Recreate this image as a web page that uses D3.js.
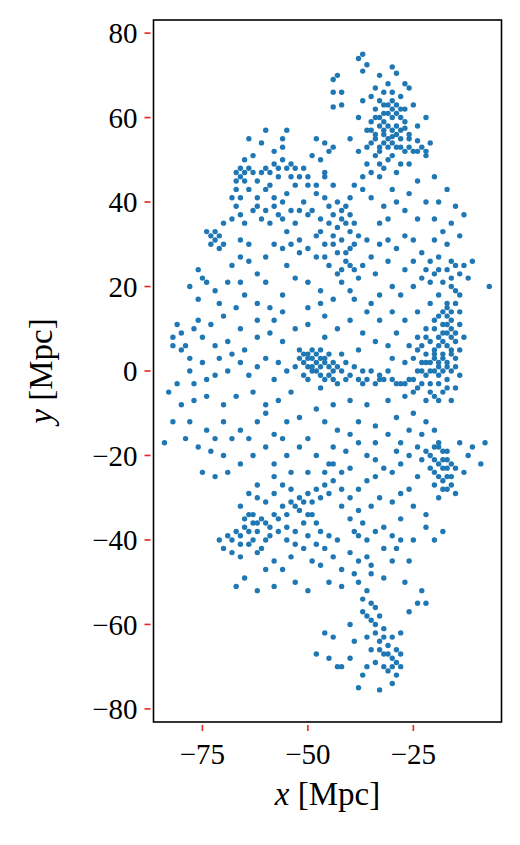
<!DOCTYPE html>
<html><head><meta charset="utf-8">
<script src="https://cdn.jsdelivr.net/npm/d3@7"></script>
<style>body{margin:0;background:#fff}</style></head>
<body><script>
const xTicks=[-75,-50,-25];
const yTicks=[-80,-60,-40,-20,0,20,40,60,80];
const northCluster=[[-37,75],[-38,74],[-36,72.5],[-37,71],[-33,70],[-29,70.5],[-31,68],[-32,66],[-30,66],[-28,65],[-33,64],[-31,63],[-29,63],[-27,62],[-34,62],[-32,61],[-30,60],[-28,60],[-35,59],[-33,58],[-31,58],[-29,58],[-27,57.5],[-36,57],[-34,56],[-32,56],[-30,55.5],[-28,55],[-26,55],[-24,54.5],[-35,54],[-33,53],[-31,53],[-29,53],[-27,52],[-25,52],[-23,53],[-22,51],[-30,51],[-34,51],[-36,49],[-32,48],[-28,49],[-26,49],[-21,54],[-24,58],[-22,60],[-25,63],[-26,67],[-34,67],[-37,64],[-38,60],[-36,53],[-31,50],[-29,47],[-33,46],[-38,52],[-40,55],[-20,46],[-24,45],[-43,70],[-44,69],[-44,66],[-42,66],[-42,63],[-44,62.5],[-30,72],[-27,68],[-35,65],[-32,59]];
const northDense=[[-33,60],[-31,61],[-29,61],[-32,57],[-30,57],[-28,57],[-26,56],[-34,55],[-32,54],[-30,54],[-28,53],[-26,53],[-24,52],[-22,52],[-33,52],[-31,55],[-29,56],[-27,59],[-30,62],[-32,63],[-30,64],[-28,62],[-34,60],[-35,57],[-33,49],[-35,47],[-37,46],[-39,44],[-40,41],[-41,39],[-42,36],[-43,34],[-40,37],[-39,35],[-38,32],[-40,29],[-41,26],[-39,24],[-42,24]];
const upperLeft=[[-55,57],[-56,55],[-56,53],[-58,52],[-61,54],[-63,51],[-65,50],[-66,48],[-67,47],[-65,47],[-64,48],[-60,48],[-59,47],[-57,48],[-55,48],[-53,48],[-51,48],[-54,46],[-59,44],[-62,45],[-67,45],[-68,41],[-67,39],[-66,37],[-65,35],[-63,38],[-61,36],[-59,35],[-57,37],[-56,40],[-55,42],[-53,44],[-48,55],[-46,54],[-45,52],[-44,53],[-47,50],[-49,51],[-50,46],[-48,44],[-46,46],[-44,44],[-43,40],[-42,38],[-44,37],[-41,35],[-40,33],[-42,31],[-39,30],[-41,28],[-46,47],[-64,55],[-60,57],[-62,41],[-66,31],[-64,30],[-68,36],[-70,35],[-58,41],[-52,38],[-50,37],[-53,35],[-55,33],[-52,31],[-48,32],[-46,30],[-47,33],[-44,30],[-43,28]];
const upperLeftDense=[[-66,46],[-65,45],[-67,43],[-66,41],[-64,43],[-63,47],[-61,47],[-58,49],[-56,50],[-54,49],[-52,46],[-50,44],[-48,42],[-46,41],[-45,39],[-57,46],[-60,43],[-62,39],[-60,38],[-58,39],[-56,36],[-54,38],[-51,40],[-49,38],[-47,36],[-45,35],[-44,32],[-72,33],[-73,30],[-71,29]];
const midUpper=[[-74,33],[-73,32],[-72,31],[-71,32],[-70,30],[-76,24],[-75,22],[-78,20],[-76,17],[-72,19],[-69,21],[-68,25],[-66,27],[-64,26],[-62,23],[-60,27],[-58,30],[-56,29],[-54,30],[-52,28],[-50,29],[-48,27],[-46,27],[-45,25],[-43,23],[-42,21],[-40,19],[-39,17],[-38,22],[-37,25],[-35,27],[-33,30],[-31,31],[-29,29],[-27,32],[-25,31],[-23,28],[-21,26],[-19,24],[-17,24],[-15,25],[-13,25],[-12,22],[-11,26],[-7,20],[-18,33],[-16,35],[-20,36],[-24,36],[-27,38],[-29,40],[-32,39],[-35,41],[-37,43],[-30,43],[-26,42],[-22,40],[-19,40],[-17,43],[-15,39],[-13,37],[-14,32],[-17,30],[-20,31],[-23,22],[-25,20],[-28,18],[-30,20],[-33,18],[-35,16],[-44,17],[-47,19],[-50,21],[-53,22],[-56,18],[-59,15],[-62,16],[-65,18],[-67,15],[-70,13],[-73,11],[-77,10],[-80,9],[-82,8],[-82,6],[-80,5],[-78,3],[-76,12],[-55,25],[-40,25],[-34,23],[-31,26],[-21,21],[-19,18],[-16,20],[-14,18],[-17,16],[-21,16]];
const rightBlob=[[-18,14],[-17,13],[-16,12],[-18,11],[-16,10],[-15,9],[-17,9],[-19,8],[-15,7],[-17,6],[-19,6],[-21,7],[-16,5],[-18,4],[-20,4],[-22,4],[-15,3],[-17,2],[-19,2],[-21,2],[-23,2],[-16,0],[-18,0],[-20,0],[-22,-1],[-24,0],[-17,-2],[-19,-3],[-21,-3],[-23,-3],[-15,-4],[-18,-5],[-20,-6],[-16,-7],[-14,11],[-14,14],[-15,16],[-20,12],[-22,10],[-24,8],[-26,6],[-25,3],[-27,2],[-14,5],[-14,-1],[-13,8],[-22,-7],[-25,-5]];
const rightDense=[[-17,11],[-18,9],[-16,8],[-18,7],[-20,5],[-16,4],[-18,3],[-20,3],[-22,2],[-17,1],[-19,1],[-21,0],[-23,0],[-19,-1],[-17,-4],[-19,-7],[-21,-5],[-15,1],[-16,14],[-17,15],[-19,13],[-20,10],[-22,8],[-23,6],[-24,5],[-15,19],[-16,22],[-18,21],[-20,23],[-22,24],[-14,23],[-16,26],[-19,27]];
const centralWall=[[-52,5],[-50,4],[-49,3],[-48,2],[-51,2],[-47,1],[-49,0],[-46,3],[-45,1],[-44,0],[-51,-1],[-53,1],[-50,-2],[-42,0],[-40,-1],[-38,-2],[-36,-2],[-34,-3],[-32,-2],[-30,-2],[-28,-3],[-26,-2],[-39,1],[-35,0],[-31,0],[-43,-3],[-47,-4],[-55,0],[-57,2],[-60,3],[-62,1],[-58,-2],[-64,-1],[-66,2],[-69,0],[-72,-1],[-75,2],[-78,0],[-81,-3],[-83,-5],[-80,-8],[-77,-7],[-74,-6],[-70,-8],[-67,-6],[-63,-5],[-60,-8],[-57,-7],[-54,-5],[-56,7],[-59,9],[-62,8],[-66,10],[-69,7],[-72,6],[-75,8],[-46,8],[-43,10],[-40,12],[-37,9],[-34,7],[-31,6],[-29,9],[-33,12],[-36,14],[-46,13],[-50,11],[-53,10],[-42,4],[-38,5],[-30,3],[-27,-6],[-31,-7],[-36,-8],[-40,-7],[-44,-8],[-48,-9],[-52,-11],[-62,-12],[-66,-14],[-70,-12],[-74,-14],[-78,-12],[-82,-12],[-79,-16],[-84,-17]];
const centralDense=[[-50,3],[-49,1],[-48,4],[-47,3],[-46,2],[-48,0],[-47,-1],[-46,-2],[-45,-1],[-44,2],[-43,1],[-50,1],[-52,3],[-51,4],[-49,5],[-47,5],[-45,4],[-44,-2],[-41,-2],[-37,-3],[-33,-2],[-29,-3],[-27,-3],[-25,-2],[-24,-4],[-37,0],[-33,-1],[-41,2]];
const lowerMiddle=[[-46,-12],[-43,-14],[-40,-15],[-38,-17],[-36,-20],[-34,-21],[-32,-23],[-30,-24],[-28,-22],[-26,-20],[-24,-18],[-28,-17],[-31,-15],[-34,-13],[-29,-11],[-25,-10],[-22,-12],[-20,-14],[-19,-17],[-18,-19],[-17,-21],[-16,-22],[-18,-23],[-20,-24],[-16,-25],[-18,-26],[-20,-27],[-17,-28],[-15,-29],[-19,-30],[-13,-24],[-12,-20],[-11,-18],[-8,-17],[-9,-22],[-14,-17],[-21,-20],[-23,-21],[-24,-25],[-26,-28],[-28,-29],[-30,-31],[-25,-32],[-22,-34],[-22,-37],[-28,-35],[-32,-37],[-55,-12],[-58,-15],[-60,-18],[-63,-20],[-66,-22],[-69,-24],[-72,-25],[-75,-24],[-73,-19],[-76,-18],[-70,-20],[-55,-20],[-52,-18],[-50,-16],[-48,-20],[-45,-22],[-42,-24],[-40,-23],[-58,-25],[-62,-27],[-64,-29]];
const lowerRightDense=[[-19,-18],[-17,-19],[-20,-21],[-18,-21],[-19,-22],[-17,-23],[-19,-25],[-17,-25],[-15,-23],[-16,-27],[-18,-28],[-20,-18],[-22,-19],[-21,-23]];
const lowerLeft=[[-66,-32],[-64,-34],[-63,-36],[-65,-37],[-67,-38],[-69,-39],[-71,-40],[-70,-42],[-68,-43],[-66,-44],[-64,-41],[-62,-38],[-60,-36],[-58,-34],[-56,-32],[-54,-31],[-52,-30],[-50,-29],[-48,-28],[-46,-27],[-44,-26],[-52,-33],[-50,-34],[-48,-36],[-47,-38],[-45,-39],[-43,-40],[-57,-38],[-55,-40],[-53,-41],[-51,-42],[-60,-40],[-62,-43],[-58,-45],[-56,-47],[-54,-44],[-49,-45],[-47,-46],[-44,-44],[-42,-47],[-40,-43],[-38,-39],[-36,-40],[-34,-38],[-40,-35],[-38,-33],[-35,-32],[-33,-30],[-42,-32],[-60,-47],[-65,-49],[-67,-51],[-62,-52],[-58,-51],[-53,-50],[-50,-52],[-45,-50],[-42,-51],[-39,-48],[-35,-46],[-30,-45],[-26,-45],[-29,-42],[-25,-40],[-20,-40],[-18,-38]];
const lowerLeftDense=[[-65,-35],[-63,-34],[-61,-35],[-59,-37],[-62,-36],[-64,-38],[-66,-39],[-68,-40],[-66,-41],[-63,-40],[-61,-42],[-59,-39],[-57,-35],[-55,-34],[-53,-32],[-51,-31],[-49,-31],[-47,-30],[-45,-29],[-49,-34],[-51,-36],[-53,-38],[-55,-37],[-50,-39],[-48,-41],[-46,-42],[-54,-28],[-56,-27],[-58,-29],[-60,-31],[-62,-30],[-46,-24],[-44,-22],[-42,-28],[-40,-30],[-38,-28],[-36,-26],[-34,-25],[-37,-36],[-39,-38]];
const southFinger=[[-38,-50],[-36,-52],[-35,-55],[-37,-57],[-35,-59],[-33,-58],[-32,-61],[-34,-62],[-36,-63],[-33,-64],[-31,-65],[-29,-66],[-32,-67],[-30,-68],[-28,-67],[-34,-69],[-31,-71],[-29,-72],[-30,-74],[-37,-72],[-38,-75],[-36,-70],[-33,-75.5],[-40,-68],[-42,-70],[-43,-70],[-45,-68],[-48,-67],[-44,-63],[-46,-62],[-40,-60],[-39,-64],[-28,-62],[-26,-57],[-24,-55],[-22,-55],[-23,-52],[-27,-50],[-32,-49],[-35,-48]];
const southDense=[[-34,-60],[-32,-63],[-30,-63],[-31,-67],[-29,-69],[-33,-66],[-35,-66],[-30,-70],[-32,-70],[-28,-70],[-36,-58],[-34,-56],[-37,-54],[-38,-45],[-36,-44],[-32,-42],[-30,-39],[-28,-40]];
const scattered=[[-60,-10],[-64,-16],[-68,-16],[-72,-16],[-56,-16],[-58,-22],[-54,-24],[-50,-24],[-44,-18],[-41,-19],[-38,-12],[-34,-17],[-29,-19],[-26,-14],[-23,-15],[-30,14],[-27,12],[-24,14],[-27,24],[-33,35],[-31,36],[-25,26],[-36,31],[-58,12],[-62,12],[-65,5],[-68,4],[-71,3],[-74,-2],[-77,-3],[-79,6],[-81,11],[-71,16],[-74,21],[-66,21],[-60,21],[-56,14],[-50,15],[-47,16]];
const points=[].concat(northCluster,northDense,upperLeft,upperLeftDense,midUpper,rightBlob,rightDense,centralWall,centralDense,lowerMiddle,lowerRightDense,lowerLeft,lowerLeftDense,southFinger,southDense,scattered);

const W=520,H=845,L=153.5,R=501.5,T=20,B=722;
const svg=d3.select("body").append("svg").attr("width",W).attr("height",H);
const x=d3.scaleLinear().domain([-86.6,-4.1]).range([L,R]);
const y=d3.scaleLinear().domain([-83.1,83.1]).range([B,T]);
const font="'Liberation Serif','DejaVu Serif',serif";
svg.append("g").selectAll("circle").data(points).join("circle")
  .attr("cx",d=>x(d[0])).attr("cy",d=>y(d[1])).attr("r",2.7).attr("fill","#1f77b4");
svg.append("rect").attr("x",L).attr("y",T).attr("width",R-L).attr("height",B-T)
  .attr("fill","none").attr("stroke","#000").attr("stroke-width",1.6);
const fmt=v=>v<0?"\u2212"+Math.abs(v):String(v);
const gy=svg.append("g");
yTicks.forEach(v=>{
  gy.append("line").attr("x1",L-9).attr("x2",L-3).attr("y1",y(v)).attr("y2",y(v)).attr("stroke","#e8221c").attr("stroke-width",1.6);
  gy.append("text").attr("x",L-16).attr("y",y(v)).attr("dy","0.35em").attr("text-anchor","end")
    .attr("font-family",font).attr("font-size",29).text(fmt(v));
});
const gx=svg.append("g");
xTicks.forEach(v=>{
  gx.append("line").attr("x1",x(v)).attr("x2",x(v)).attr("y1",B+3).attr("y2",B+9).attr("stroke","#e8221c").attr("stroke-width",1.6);
  gx.append("text").attr("x",x(v)).attr("y",B+42).attr("text-anchor","middle")
    .attr("font-family",font).attr("font-size",29).text(fmt(v));
});
const xl=svg.append("text").attr("x",(L+R)/2).attr("y",805).attr("text-anchor","middle").attr("font-family",font).attr("font-size",33);
xl.append("tspan").attr("font-style","italic").text("x");
xl.append("tspan").text(" [Mpc]");
const yl=svg.append("text").attr("transform",`translate(52,${(T+B)/2}) rotate(-90)`).attr("text-anchor","middle").attr("font-family",font).attr("font-size",33);
yl.append("tspan").attr("font-style","italic").text("y");
yl.append("tspan").text(" [Mpc]");
</script></body></html>
